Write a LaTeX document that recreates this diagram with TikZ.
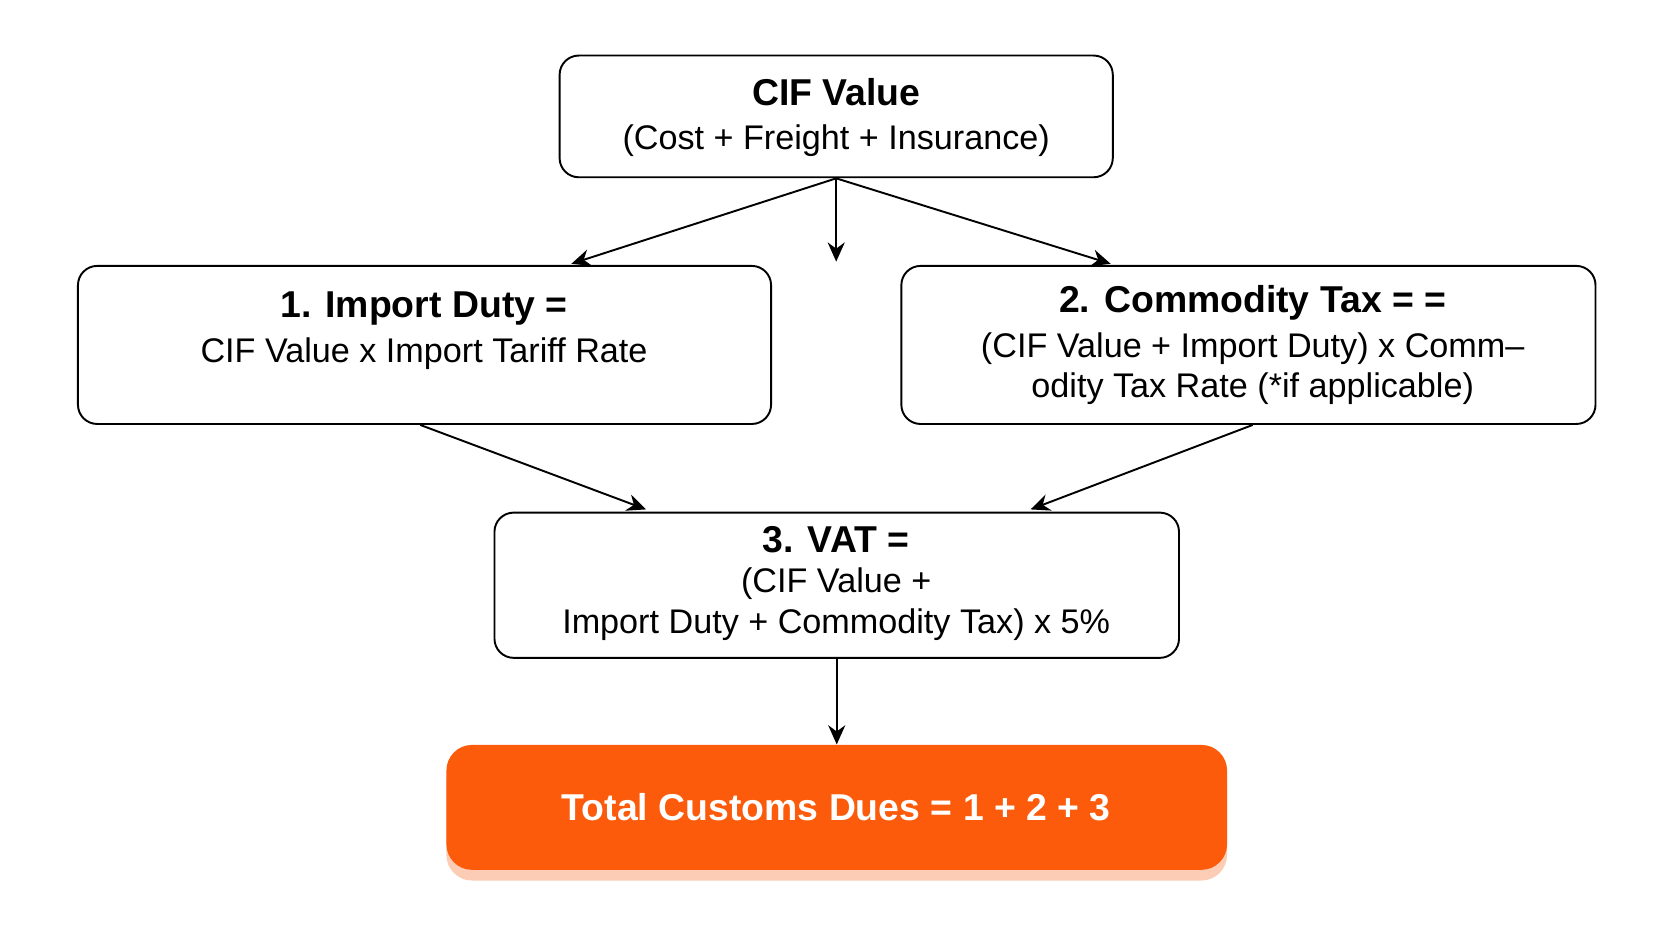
\documentclass[tikz,border=0pt]{standalone}
\usetikzlibrary{arrows.meta}
\usepackage{fontspec}
\setmainfont{Liberation Sans}
\definecolor{og}{HTML}{FB5B0A}
\definecolor{ogs}{HTML}{FCCDB4}
\begin{document}
\begin{tikzpicture}[x=0.5pt,y=-0.5pt,
 box/.style={draw,line width=0.9pt,rounded corners=9pt,inner sep=0pt},
 t/.style={align=center,font=\fontsize{16}{19}\selectfont,inner sep=0pt},
 arr/.style={-{Stealth[length=9pt,width=8pt]},line width=0.9pt}]
\useasboundingbox (0,0) rectangle (1560,877);
\node[box,minimum width=259pt,minimum height=57pt] (cif) at (783,109) {};
\node[box,minimum width=324.5pt,minimum height=74pt] (imp) at (397.5,323) {};
\node[box,minimum width=325pt,minimum height=74pt] (com) at (1169,323) {};
\node[box,minimum width=320.5pt,minimum height=68pt] (vat) at (783.5,548) {};
\node[fill=ogs,rounded corners=12pt,minimum width=365.5pt,minimum height=58.5pt,inner sep=0pt] (sh) at (783.5,766) {};
\node[fill=og,rounded corners=12pt,minimum width=365.5pt,minimum height=58.5pt,inner sep=0pt] (tot) at (783.5,756) {};
\node[t] (cift) at (783,110) {\textbf{\fontsize{17.5}{20}\selectfont CIF Value}\\[2pt](Cost + Freight + Insurance)};
\node[t] (impt) at (397,310) {\textbf{\fontsize{17.5}{20}\selectfont 1. Import Duty =}\\[2pt]CIF Value x Import Tariff Rate};
\node[t] (comt) at (1173,323) {\textbf{\fontsize{17.5}{20}\selectfont 2. Commodity Tax = =}\\[2pt](CIF Value + Import Duty) x Comm--\\odity Tax Rate (*if applicable)};
\node[t] (vatt) at (783,546) {\textbf{\fontsize{17.5}{20}\selectfont 3. VAT =}\\(CIF Value +\\Import Duty + Commodity Tax) x 5\%};
\node[t,text=white,font=\bfseries\fontsize{17.5}{20}\selectfont] (tott) at (783,756) {Total Customs Dues = 1 + 2 + 3};
\coordinate (c0) at (783,167);
\coordinate (cm) at (783,245);
\draw[arr] (c0) -- (535,247);
\draw[arr] (c0) -- (cm);
\draw[arr] (c0) -- (1040,247);
\draw[arr] ([xshift=-2pt]imp.south) -- (605,477);
\draw[arr] ([xshift=2pt]com.south) -- (965,477);
\draw[arr] (vat.south) -- (tot.north);
\end{tikzpicture}
\end{document}
